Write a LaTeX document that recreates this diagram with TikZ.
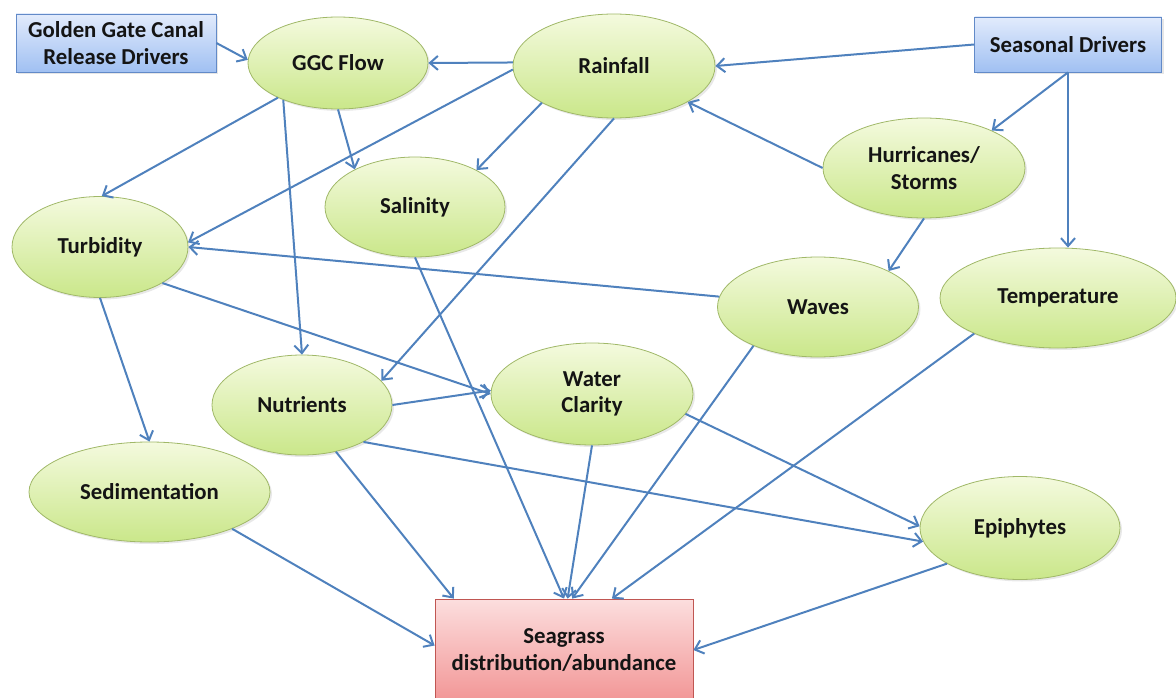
\documentclass[tikz,border=0pt]{standalone}
\usepackage{fontspec}
\setmainfont{Carlito}
\usetikzlibrary{shapes.geometric,arrows.meta,shadows}

\definecolor{linkblue}{RGB}{79,129,189}
\definecolor{ellTop}{RGB}{244,250,222}
\definecolor{ellBot}{RGB}{202,231,138}
\definecolor{ellEdge}{RGB}{160,184,104}
\definecolor{drvTop}{RGB}{226,235,252}
\definecolor{drvBot}{RGB}{160,192,242}
\definecolor{drvEdge}{RGB}{98,138,200}
\definecolor{sgTop}{RGB}{252,222,222}
\definecolor{sgBot}{RGB}{242,150,150}
\definecolor{sgEdge}{RGB}{192,86,82}
\definecolor{txt}{RGB}{20,20,20}

\tikzset{
  every node/.style={font=\fontsize{22.8}{26.5}\selectfont\bfseries, text=txt, align=center},
  factor/.style={ellipse, draw=ellEdge, line width=0.8pt, top color=ellTop, bottom color=ellBot,
    inner sep=0pt, drop shadow={opacity=0.18, shadow xshift=2pt, shadow yshift=-2pt}},
  driver/.style={rectangle, draw=drvEdge, line width=0.8pt, top color=drvTop, bottom color=drvBot,
    inner sep=0pt, drop shadow={opacity=0.2, shadow xshift=2pt, shadow yshift=-2pt}},
  outcome/.style={rectangle, draw=sgEdge, line width=0.8pt, top color=sgTop, bottom color=sgBot,
    inner sep=0pt},
  arr/.style={draw=linkblue, line width=2pt, -{Straight Barb[length=8pt,width=14pt]}}
}

\begin{document}
\begin{tikzpicture}[x=1pt,y=-1pt]
\useasboundingbox (0,0) rectangle (1176,698);

% drivers
\node[driver, minimum width=200pt, minimum height=58pt] (gd) at (116,43) {Golden Gate Canal\\Release Drivers};
\node[driver, minimum width=187pt, minimum height=55pt] (sd) at (1068,44.5) {Seasonal Drivers};

% intermediate factors
\node[factor, minimum width=180pt, minimum height=92pt]  (ggc)   at (338,63)   {GGC Flow};
\node[factor, minimum width=202pt, minimum height=104pt] (rain)  at (614,66)   {Rainfall};
\node[factor, minimum width=202pt, minimum height=100pt] (hur)   at (924,168)  {Hurricanes/\\Storms};
\node[factor, minimum width=180pt, minimum height=100pt] (sal)   at (415,207)  {Salinity};
\node[factor, minimum width=176pt, minimum height=101pt] (turb)  at (100,247)  {Turbidity};
\node[factor, minimum width=201pt, minimum height=100pt] (waves) at (818,307)  {Waves};
\node[factor, minimum width=236pt, minimum height=100pt] (temp)  at (1058,298) {Temperature};
\node[factor, minimum width=180pt, minimum height=100pt] (nut)   at (302,405)  {Nutrients};
\node[factor, minimum width=202pt, minimum height=102pt] (wc)    at (592,394)  {Water\\Clarity};
\node[factor, minimum width=241pt, minimum height=100pt] (sed)   at (149.5,492) {Sedimentation};
\node[factor, minimum width=200pt, minimum height=103pt] (epi)   at (1020,528) {Epiphytes};

% response
\node[outcome, minimum width=258pt, minimum height=102pt] (sg) at (564,650) {Seagrass\\distribution/abundance};

% influences
\draw[arr] (gd.east)    -- (ggc.178);
\draw[arr] (rain.178)   -- (ggc.east);
\draw[arr] (sd.west)    -- (rain.east);
\draw[arr] (sd.south)   -- (hur.29);
\draw[arr] (sd.south)   -- (sd.south |- temp.north);
\draw[arr] (hur.west)   -- (rain.-26);
\draw[arr] (hur.south)  -- (waves.27);
\draw[arr] (ggc.210)    -- (turb.88);
\draw[arr] (ggc.south)  -- (sal.148);
\draw[arr] (ggc.214)    -- (nut.north);
\draw[arr] (rain.182)   -- (turb.3);
\draw[arr] (rain.207)   -- (sal.31);
\draw[arr] (rain.south) -- (nut.17);
\draw[arr] (waves.174)  -- (turb.0);
\draw[arr] (turb.330)   -- (wc.180);
\draw[arr] (turb.south) -- (sed.north);
\draw[arr] (nut.east)   -- (wc.178);
\draw[arr] (nut.329)    -- (epi.188);
\draw[arr] (wc.348)     -- (epi.179);
\draw[arr] (nut.306)    -- (sg.155);
\draw[arr] (sal.south)  -- (sg.north);
\draw[arr] (wc.south)   -- (sg.86);
\draw[arr] (waves.211)  -- (sg.81);
\draw[arr] (temp.203)   -- (sg.47);
\draw[arr] (epi.206)    -- (sg.east);
\draw[arr] (sed.336)    -- (sg.178);
\end{tikzpicture}
\end{document}
